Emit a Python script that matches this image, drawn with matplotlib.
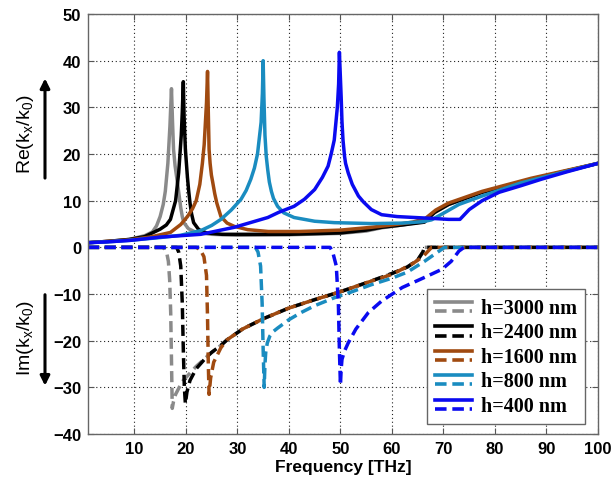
import matplotlib
matplotlib.use('Agg')
import matplotlib.pyplot as plt
from matplotlib.lines import Line2D
from matplotlib.patches import FancyArrowPatch
from matplotlib.legend_handler import HandlerBase

plt.rcParams['font.family'] = ['Liberation Sans', 'DejaVu Sans']
plt.rcParams['mathtext.default'] = 'regular'

# Re(kx/k0), solid lines
gray_re_f = [1, 5, 9, 12, 13.5, 14.3, 15, 15.6, 16, 16.5, 16.9, 17.2, 17.4, 17.6, 17.9, 18.4, 18.7, 19, 19.3, 19.6, 20.5, 22, 25, 30, 40, 50, 55, 58, 62, 66, 68, 71, 77.5, 87, 100]
gray_re = [1.0, 1.3, 1.7, 2.5, 3.3, 4.6, 6.6, 9.2, 12, 18, 26, 34, 27, 21, 17.5, 13.5, 11, 8.5, 6.6, 5.3, 4.0, 3.2, 2.8, 2.6, 2.7, 3.0, 3.5, 4.2, 4.8, 5.5, 7.3, 9.2, 11.8, 14.6, 18]

black_re_f = [1, 5, 9, 12, 15, 16.2, 17, 18, 18.6, 18.85, 19.1, 19.3, 19.5, 19.65, 19.9, 20.3, 20.55, 20.8, 21.1, 21.5, 22.5, 24, 27, 30, 40, 50, 55, 58, 62, 66.3, 68.3, 71, 77.5, 87.2, 100]
black_re = [1.0, 1.3, 1.7, 2.3, 3.9, 4.8, 6, 10, 16, 20, 24, 29, 35.5, 28, 21, 15, 12, 9.5, 7.2, 5.3, 3.8, 3.1, 2.8, 2.8, 2.8, 3.1, 3.7, 4.3, 4.8, 5.4, 7.5, 9.2, 11.8, 14.6, 18]

brown_re_f = [1, 5, 9, 13, 17, 19, 20.3, 21.3, 22, 22.7, 23.2, 23.55, 23.8, 24.0, 24.2, 24.35, 24.5, 24.7, 24.95, 25.2, 25.6, 26, 26.8, 28, 29.4, 32, 36, 42, 50, 56, 60, 64, 66.5, 68.5, 71, 77.5, 87, 100]
brown_re = [1.0, 1.3, 1.6, 2.2, 3.2, 4.9, 6.6, 8.3, 10, 13.5, 18, 22, 27, 31, 37.7, 29, 21, 18, 15.5, 14, 11.5, 9.5, 6.6, 5.2, 4.5, 3.8, 3.4, 3.4, 3.7, 4.3, 4.8, 5.4, 6.2, 8.0, 9.5, 12, 14.8, 18]

teal_re_f = [1, 5, 9, 15, 19, 22.9, 25, 26.8, 28.8, 30.7, 31.7, 32.6, 33.3, 33.9, 34.6, 34.85, 35, 35.15, 35.35, 35.6, 35.9, 36.2, 36.6, 37, 37.8, 39, 41, 45, 48.8, 56, 62, 66, 67.7, 70.3, 73, 77.5, 85, 100]
teal_re = [1.0, 1.2, 1.5, 2.1, 2.6, 3.6, 4.7, 6, 8, 10.3, 12.2, 14.6, 17, 20, 26.8, 33, 40, 32, 24, 19.5, 16.5, 14, 12, 10.5, 8.8, 7.4, 6.4, 5.6, 5.3, 5.1, 5.2, 5.5, 5.9, 7.5, 9.2, 11, 13.8, 18]

blue_re_f = [1, 5, 9.2, 15, 22.9, 29.4, 35.9, 38, 41, 43, 45, 46.5, 47.6, 48.2, 48.8, 49.4, 49.65, 49.8, 50.15, 50.3, 50.5, 50.8, 51.0, 51.5, 52.3, 53.5, 54.5, 56, 58, 61, 64.4, 68, 71, 73.2, 75, 77.5, 80.8, 85, 89, 94, 100]
blue_re = [1.0, 1.2, 1.5, 2.2, 2.8, 4.3, 6.4, 7.5, 8.8, 10.3, 12.4, 15, 17.4, 20, 23, 30, 35, 41.8, 32, 27, 23, 19.5, 18, 16, 13.5, 11, 9.7, 8.1, 7.0, 6.6, 6.4, 6.2, 6.0, 6.0, 8.1, 10, 11.8, 13.2, 14.6, 16.2, 18]

# Im(kx/k0), dashed lines
gray_im_f = [1, 15.5, 15.9, 16.3, 16.6, 16.85, 17.05, 17.2, 17.35, 17.6, 18.0, 18.7, 19.5, 22, 24, 25, 26.8, 28, 31, 35, 40, 45, 50, 55, 60, 63, 65, 66, 66.3, 100]
gray_im = [0, 0, -0.4, -1.3, -3, -7, -14, -24, -34.5, -33, -31.5, -30, -28.5, -25.5, -23.5, -22.5, -21, -19.8, -17.5, -15.3, -13, -11.2, -9.5, -7.6, -5.6, -4.2, -2.7, -1.0, 0, 0]

black_im_f = [1, 18.2, 18.6, 19.0, 19.3, 19.5, 19.7, 19.9, 20.2, 20.8, 22, 24, 25, 26.8, 28, 31, 35, 40, 45, 50, 55, 60, 63, 65, 66, 66.3, 100]
black_im = [0, 0, -1, -4, -12, -22, -30, -33.5, -31, -28.5, -26, -23.5, -22.5, -21, -19.8, -17.5, -15.3, -13, -11.2, -9.5, -7.6, -5.6, -4.2, -2.7, -1.0, 0, 0]

brown_im_f = [1, 22, 22.8, 23.5, 24.0, 24.2, 24.35, 24.5, 24.8, 25.4, 26.8, 28, 31, 35, 40, 45, 50, 55, 60, 64, 66, 67.7, 100]
brown_im = [0, 0, -0.5, -2, -6, -15, -25, -31.5, -28, -24.6, -21.5, -19.8, -17.5, -15.3, -13, -11.2, -9.5, -7.6, -5.8, -3.5, -2.0, 0, 0]

teal_im_f = [1, 33.5, 34, 34.5, 34.8, 35.0, 35.2, 35.35, 35.5, 35.8, 36.3, 37, 37.8, 40, 42.3, 45, 48.8, 52, 56, 60, 63, 66.3, 68.5, 70.2, 100]
teal_im = [0, 0, -1, -4, -12, -22, -30, -25, -22.5, -20.5, -19, -18, -17.3, -15.5, -14, -12.5, -10.8, -9.6, -8, -6.6, -5.3, -3, -1.3, 0, 0]

blue_im_f = [1, 48, 48.5, 49.2, 49.6, 49.8, 50.0, 50.15, 50.3, 50.8, 51.5, 53, 55.4, 58, 62, 66, 69.7, 71.5, 73, 74, 100]
blue_im = [0, 0, -1, -4, -12, -22, -29.5, -26, -24, -22.2, -20.5, -17.5, -14, -11.5, -8.6, -6.6, -4.7, -3, -0.8, 0, 0]

labels = ['h=3000 nm', 'h=2400 nm', 'h=1600 nm', 'h=800 nm', 'h=400 nm']
colors = ['#8a8a8a', '#000000', '#a04a10', '#1a8cc0', '#0a0af0']

re_data = [(gray_re_f, gray_re), (black_re_f, black_re), (brown_re_f, brown_re),
           (teal_re_f, teal_re), (blue_re_f, blue_re)]
im_data = [(gray_im_f, gray_im), (black_im_f, black_im), (brown_im_f, brown_im),
           (teal_im_f, teal_im), (blue_im_f, blue_im)]


class TwoLineHandler(HandlerBase):
    # solid line on top, dashed line below, like the original legend
    def create_artists(self, legend, orig_handle, xdescent, ydescent, width, height, fontsize, trans):
        c = orig_handle.get_color()
        x = [-xdescent, -xdescent + width]
        top = Line2D(x, [height * 0.78 - ydescent] * 2, color=c, lw=2.6, transform=trans)
        bot = Line2D(x, [height * 0.12 - ydescent] * 2, color=c, lw=2.6, dashes=(3.2, 1.6), transform=trans)
        return [top, bot]


fig = plt.figure(figsize=(6.13, 4.85), dpi=100)
ax = fig.add_axes([0.1436, 0.103, 0.8319, 0.866])

handles = []
for (f, v), c in zip(re_data, colors):
    h, = ax.plot(f, v, color=c, lw=2.5, solid_joinstyle='round')
    handles.append(h)
for (f, v), c in zip(im_data, colors):
    ax.plot(f, v, color=c, lw=2.5, dashes=(3.2, 1.6), dash_joinstyle='round')

ax.set_xlim(1, 100)
ax.set_ylim(-40, 50)
ax.set_xticks(range(10, 101, 10))
ax.set_yticks(range(-40, 51, 10))
ax.grid(True, linestyle=(0, (1, 2.5)), color='#222222', lw=0.8)
ax.tick_params(direction='in', top=True, right=True, length=4, width=0.8, color='#555555',
               labelsize=12, pad=5)
for lab in ax.get_xticklabels() + ax.get_yticklabels():
    lab.set_fontweight('bold')
for s in ax.spines.values():
    s.set_color('#666666')
    s.set_linewidth(1.0)

ax.set_xlabel('Frequency [THz]', fontsize=12.5, fontweight='bold', labelpad=2)

leg = ax.legend(handles, labels, handler_map={Line2D: TwoLineHandler()},
                loc='lower right', bbox_to_anchor=(0.975, 0.024), borderaxespad=0,
                prop={'family': 'Liberation Serif', 'weight': 'bold', 'size': 14.5},
                handlelength=1.8, handletextpad=0.45, labelspacing=0.22,
                borderpad=0.42, fancybox=False, framealpha=1, edgecolor='#666666')
leg.get_frame().set_linewidth(1.0)

fig.text(0.041, 0.724, r'$\mathregular{Re(k_x/k_0)}$', rotation=90, ha='center', va='center', fontsize=14)
fig.text(0.041, 0.303, r'$\mathregular{Im(k_x/k_0)}$', rotation=90, ha='center', va='center', fontsize=14)
fig.add_artist(FancyArrowPatch((0.0734, 0.625), (0.0734, 0.842), transform=fig.transFigure,
                               arrowstyle='-|>', mutation_scale=14, lw=2.2, color='black'))
fig.add_artist(FancyArrowPatch((0.0734, 0.396), (0.0734, 0.197), transform=fig.transFigure,
                               arrowstyle='-|>', mutation_scale=14, lw=2.2, color='black'))

fig.savefig('out.png', dpi=100)
